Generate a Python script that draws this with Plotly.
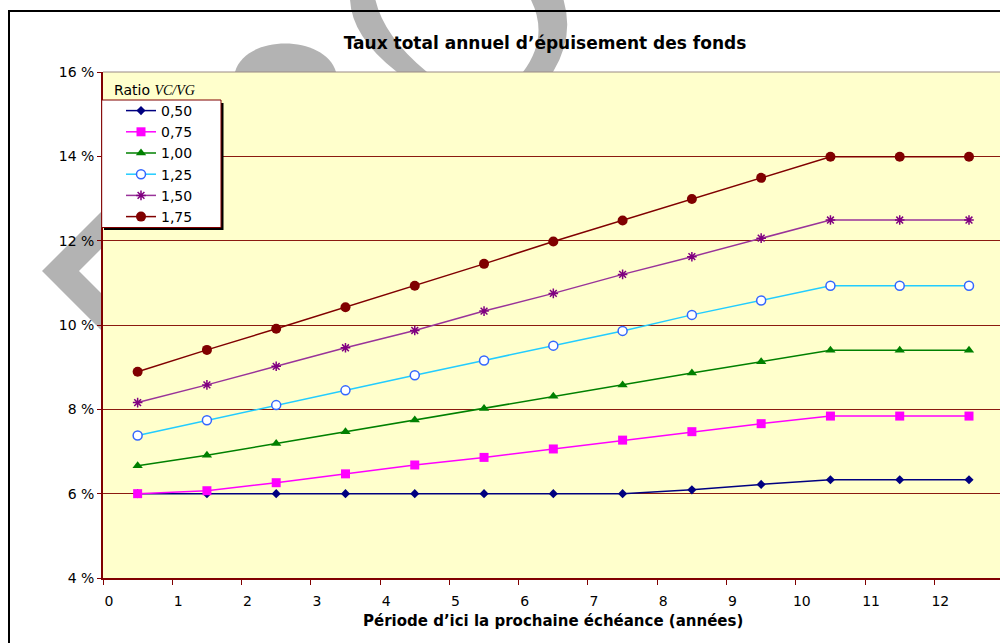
import plotly.graph_objects as go

# ---------------- data ----------------
periods = [0.5, 1.5, 2.5, 3.5, 4.5, 5.5, 6.5, 7.5, 8.5, 9.5, 10.5, 11.5, 12.5]
series_names = ["0,50", "0,75", "1,00", "1,25", "1,50", "1,75"]
rate_050 = [6.00, 6.00, 6.00, 6.00, 6.00, 6.00, 6.00, 6.00, 6.09, 6.22, 6.33, 6.33, 6.33]
rate_075 = [6.00, 6.07, 6.26, 6.47, 6.68, 6.86, 7.06, 7.27, 7.47, 7.66, 7.84, 7.84, 7.84]
rate_100 = [6.66, 6.91, 7.19, 7.47, 7.75, 8.02, 8.31, 8.58, 8.86, 9.13, 9.40, 9.40, 9.40]
rate_125 = [7.38, 7.74, 8.10, 8.45, 8.81, 9.16, 9.51, 9.86, 10.24, 10.58, 10.93, 10.93, 10.93]
rate_150 = [8.16, 8.58, 9.02, 9.46, 9.87, 10.33, 10.75, 11.20, 11.62, 12.06, 12.49, 12.49, 12.49]
rate_175 = [8.89, 9.41, 9.91, 10.42, 10.93, 11.45, 11.98, 12.48, 12.99, 13.49, 13.99, 13.99, 13.99]
x_tick_vals = [0, 1, 2, 3, 4, 5, 6, 7, 8, 9, 10, 11, 12]
y_tick_vals = [4, 6, 8, 10, 12, 14, 16]
y_tick_text = ["4 %", "6 %", "8 %", "10 %", "12 %", "14 %", "16 %"]

title_text = "Taux total annuel d’épuisement des fonds"
x_title_text = "Période d’ici la prochaine échéance (années)"

# ---------------- geometry (pixels) ----------------
W, H = 1000, 643
ML, MR, MT, MB = 103, 0, 72, 65
PW, PH = W - ML - MR, H - MT - MB
PX_PER_UNIT = 69.28


def px(x):
    return (x - ML) / PW


def py(y):
    return (H - MB - y) / PH


def path(cmds):
    out = []
    for c in cmds:
        if isinstance(c, str):
            out.append(c)
        else:
            out.append(f"{px(c[0]):.5f},{py(c[1]):.5f}")
    return " ".join(out)


styles = [
    dict(line=dict(color="#000080", width=1.5),
         marker=dict(symbol="diamond", size=7, color="#000080")),
    dict(line=dict(color="#FF00FF", width=1.5),
         marker=dict(symbol="square", size=9, color="#FF00FF")),
    dict(line=dict(color="#008000", width=1.5),
         marker=dict(symbol="triangle-up", size=9, color="#008000")),
    dict(line=dict(color="#22CCFF", width=1.5),
         marker=dict(symbol="circle", size=9, color="white",
                     line=dict(color="#3366FF", width=1.5))),
    dict(line=dict(color="#993399", width=1.5),
         marker=dict(symbol="asterisk-open", size=8, color="#800080",
                     line=dict(color="#800080", width=1.5))),
    dict(line=dict(color="#800000", width=1.5),
         marker=dict(symbol="circle", size=10, color="#800000")),
]
all_series = [rate_050, rate_075, rate_100, rate_125, rate_150, rate_175]

fig = go.Figure()
for name, vals, st in zip(series_names, all_series, styles):
    fig.add_trace(go.Scatter(x=periods, y=vals, name=name, mode="lines+markers",
                             line=st["line"], marker=st["marker"]))

GRAY = "#B3B3B3"
shapes = [
    # outer chart border
    dict(type="path", xref="paper", yref="paper", layer="above",
         path=path(["M", (9, 660), "L", (9, 11), "L", (1010, 11)]),
         line=dict(color="black", width=2)),
    # watermark fragments (outside the plot area)
    dict(type="path", xref="paper", yref="paper", layer="below",
         path=path(["M", (42, 271), "L", (103, 210), "L", (103, 247), "L", (79, 271),
                    "L", (103, 295), "L", (103, 332), "Z"]),
         fillcolor=GRAY, line=dict(width=0)),
    dict(type="path", xref="paper", yref="paper", layer="below",
         path=path(["M", (235, 72), "C", (245, 34), (325, 34), (336, 72), "Z"]),
         fillcolor=GRAY, line=dict(width=0)),
    dict(type="path", xref="paper", yref="paper", layer="below",
         path=path(["M", (350, -2), "Q", (350.5, 36), (397, 72), "L", (427, 72),
                    "Q", (383, 36), (375, -2), "Z"]),
         fillcolor=GRAY, line=dict(width=0)),
    dict(type="path", xref="paper", yref="paper", layer="below",
         path=path(["M", (530, -2), "Q", (550, 36), (523, 72), "L", (553, 72),
                    "Q", (575, 36), (563, -2), "Z"]),
         fillcolor=GRAY, line=dict(width=0)),
    # plot-area top border
    dict(type="line", xref="paper", yref="paper", layer="above",
         x0=0, x1=1, y0=1, y1=1, line=dict(color="#9A8A84", width=1)),
    # legend shadow + box
    dict(type="rect", xref="paper", yref="paper", layer="above",
         x0=px(104), x1=px(223.5), y0=py(230), y1=py(103),
         fillcolor="black", line=dict(width=0)),
    dict(type="rect", xref="paper", yref="paper", layer="above",
         x0=px(101.7), x1=px(221), y0=py(227.5), y1=py(100),
         fillcolor="white", line=dict(color="#800000", width=1)),
]

annotations = [
    dict(xref="paper", yref="paper", x=px(112), y=py(90), xanchor="left", yanchor="middle",
         showarrow=False,
         text="Ratio <i><span style='font-family:Liberation Serif'>VC/VG</span></i>",
         font=dict(family="DejaVu Sans", size=14, color="black")),
    dict(xref="paper", yref="paper", x=px(553), y=py(621), xanchor="center", yanchor="middle",
         showarrow=False, text=f"<b>{x_title_text}</b>",
         font=dict(family="DejaVu Sans", size=15, color="black")),
]

fig.update_layout(
    width=W, height=H, autosize=False,
    margin=dict(l=ML, r=MR, t=MT, b=MB, pad=0),
    paper_bgcolor="white", plot_bgcolor="#FFFFCC",
    title=dict(text=f"<b>{title_text}</b>", x=545 / W, xanchor="center",
               y=1 - 43 / H, yanchor="middle", yref="container",
               font=dict(family="DejaVu Sans", size=17, color="black")),
    font=dict(family="DejaVu Sans", size=14, color="black"),
    showlegend=True,
    legend=dict(x=px(121), y=py(95), xanchor="left", yanchor="top",
                bgcolor="rgba(0,0,0,0)", borderwidth=0,
                font=dict(family="DejaVu Sans", size=14, color="black")),
    shapes=shapes,
    annotations=annotations,
)

fig.update_xaxes(range=[0, PW / PX_PER_UNIT], tickvals=x_tick_vals,
                 showgrid=False, zeroline=False, showline=True, linecolor="#800000",
                 linewidth=1.5, ticks="outside", ticklen=5, tickcolor="#800000",
                 ticklabelshift=6, ticklabelstandoff=4,
                 tickfont=dict(family="DejaVu Sans", size=14, color="black"))
fig.update_yaxes(range=[4, 16], tickvals=y_tick_vals, ticktext=y_tick_text,
                 showgrid=True, gridcolor="#8B1A10", gridwidth=1,
                 zeroline=False, showline=True, linecolor="#800000", linewidth=1.5,
                 ticks="outside", ticklen=4, tickcolor="#800000",
                 tickfont=dict(family="DejaVu Sans", size=14, color="black"))

fig.write_html("out.html", config={"displayModeBar": False},
               post_script="document.body.style.margin='0';")
